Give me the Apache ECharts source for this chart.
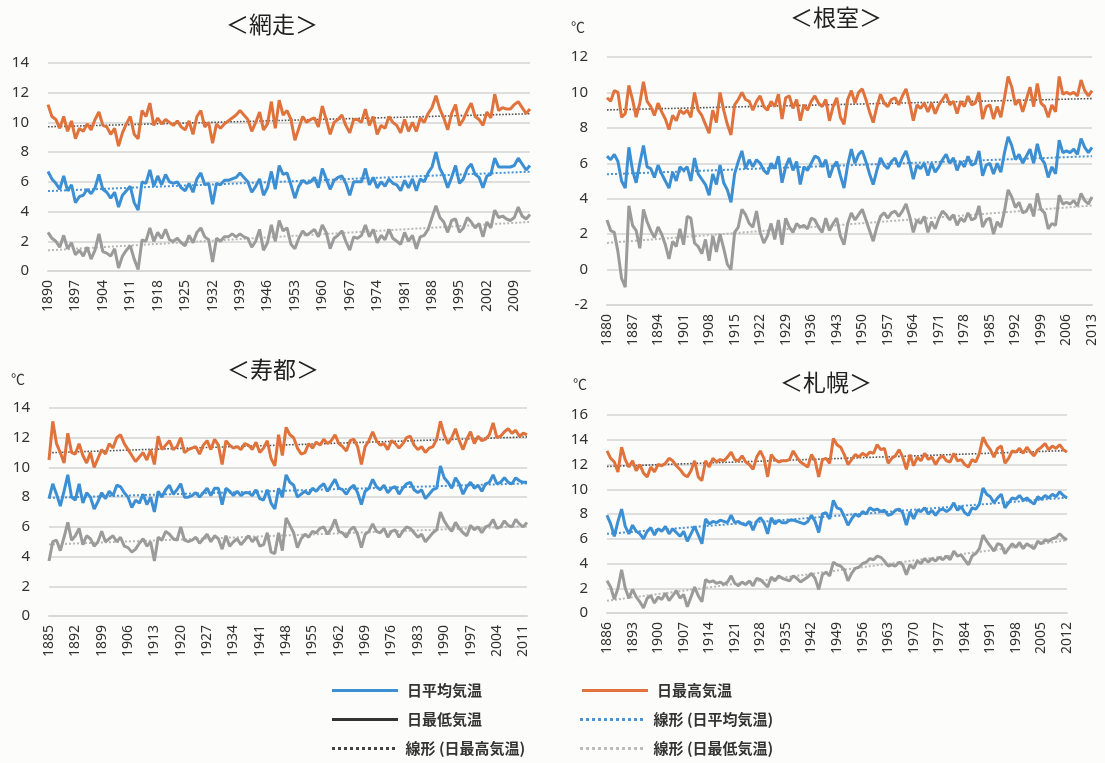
<!DOCTYPE html>
<html>
<head>
<meta charset="utf-8">
<title>北海道 気温の経年変化</title>
<script src="https://cdn.jsdelivr.net/npm/echarts@6/dist/echarts.min.js"></script>
<style>
  html, body { margin: 0; padding: 0; background: #fcfcfa; }
  #main { width: 1105px; height: 763px; }
</style>
</head>
<body>
<div id="main"></div>
<script>
// ---- 網走 1890-2013 ----
var abashiriStart = 1890;
var abashiriHigh = [
  11.2, 10.4, 10.2, 9.6, 10.4, 9.4, 10.1, 8.9, 9.6, 9.4,
  9.9, 9.5, 10.2, 10.7, 9.8, 9.7, 9.2, 9.6, 8.4, 9.3,
  9.9, 10.4, 9.2, 8.9, 10.8, 10.4, 11.3, 9.8, 10.3, 9.9,
  10.2, 10.0, 9.8, 10.1, 9.7, 9.5, 10.1, 9.2, 10.4, 10.8,
  9.7, 10.0, 8.6, 9.9, 9.6, 9.9, 10.1, 10.3, 10.5, 10.8,
  10.5, 10.2, 9.4, 10.0, 10.7, 9.5, 9.9, 11.4, 9.6, 11.5,
  10.5, 10.8, 10.2, 8.8, 9.6, 10.4, 10.0, 10.2, 10.3, 9.7,
  11.1, 10.2, 9.2, 10.0, 10.2, 10.5, 9.8, 9.3, 10.2, 10.2,
  10.0, 10.9, 9.8, 10.4, 9.2, 9.8, 9.6, 10.4, 10.0, 9.8,
  9.3, 10.2, 9.4, 10.0, 9.4, 10.3, 10.0, 10.6, 11.0, 11.8,
  10.9, 10.3, 9.5, 10.6, 11.2, 9.8, 10.2, 10.8, 11.3, 10.4,
  10.2, 9.8, 10.7, 10.3, 11.9, 10.8, 11.0, 10.9, 10.9, 11.2,
  11.4, 11.0, 10.6, 10.9
];
var abashiriMean = [
  6.7, 6.2, 5.9, 5.5, 6.4, 5.4, 5.8, 4.6, 5.0, 5.1,
  5.5, 5.2, 5.6, 6.5, 5.5, 5.3, 4.9, 5.3, 4.3, 5.1,
  5.4, 5.7, 4.6, 4.1, 6.0, 5.9, 6.8, 5.7, 6.4, 5.8,
  6.5, 6.0, 5.9, 6.0, 5.6, 5.4, 5.9, 5.3, 6.2, 6.6,
  5.8, 5.9, 4.5, 5.9, 5.8, 6.1, 6.1, 6.2, 6.3, 6.6,
  6.3, 6.0, 5.3, 5.7, 6.2, 5.1, 5.6, 6.7, 5.5, 7.1,
  6.5, 6.6, 5.8, 4.9, 5.7, 6.1, 5.9, 6.0, 6.3, 5.6,
  6.9, 6.2, 5.5, 6.1, 6.3, 6.4, 5.9, 5.1, 6.0, 6.0,
  6.0, 6.9, 5.8, 6.3, 5.6, 6.0, 5.7, 6.2, 5.9, 5.8,
  5.4, 6.1, 5.6, 6.2, 5.4, 6.2, 6.0, 6.6, 7.0, 8.0,
  6.9, 6.4, 5.6, 6.3, 7.1, 5.9, 6.2, 6.9, 7.2, 6.5,
  6.3, 5.6, 6.4, 6.5, 7.6, 7.0, 7.0, 7.0, 7.0, 7.1,
  7.6, 7.2, 6.8, 7.1
];
var abashiriLow = [
  2.6, 2.2, 2.0, 1.6, 2.4, 1.5, 1.9, 1.1, 1.4, 1.0,
  1.6, 0.8, 1.4, 2.5, 1.3, 1.2, 1.0, 1.5, 0.2, 1.0,
  1.4, 1.7, 0.8, 0.1, 2.1, 2.0, 2.9, 2.0, 2.6, 2.2,
  2.8, 2.1, 2.0, 2.2, 1.9, 1.7, 2.4, 1.9, 2.6, 2.9,
  2.3, 2.1, 0.6, 2.2, 2.0, 2.3, 2.3, 2.5, 2.3, 2.5,
  2.3, 2.2, 1.6, 2.0, 2.8, 1.4, 1.9, 3.1, 2.0, 3.4,
  2.7, 2.9, 1.8, 1.5, 2.2, 2.7, 2.4, 2.6, 2.8, 2.3,
  3.1, 2.6, 1.5, 2.2, 2.4, 2.7, 2.0, 1.4, 2.3, 2.2,
  2.4, 3.1, 2.3, 2.8, 1.9, 2.4, 2.1, 2.8, 2.2, 2.0,
  1.8, 2.6, 2.0, 2.4, 1.5, 2.3, 2.4, 2.8, 3.6, 4.4,
  3.6, 3.3, 2.6, 3.4, 3.5, 2.6, 2.9, 3.6, 3.3, 2.9,
  3.2, 2.3, 3.3, 2.9, 4.1, 3.6, 3.7, 3.5, 3.4, 3.6,
  4.3, 3.7, 3.5, 3.8
];

// ---- 根室 1880-2013 ----
var nemuroStart = 1880;
var nemuroHigh = [
  9.7, 9.5, 10.1, 10.0, 8.6, 8.8, 10.4, 9.6, 8.6, 9.4,
  10.6, 9.5, 9.2, 8.7, 9.4, 8.9, 8.5, 7.9, 8.7, 8.4,
  9.0, 8.8, 9.0, 8.6, 10.0, 9.0, 8.7, 8.2, 7.7, 9.0,
  8.3, 10.0, 9.0, 8.2, 7.6, 9.3, 9.6, 10.0, 9.6, 9.5,
  9.0, 9.5, 9.8, 9.2, 9.0, 9.5, 9.2, 9.9, 8.5, 9.7,
  9.8, 9.1, 9.6, 8.4, 9.3, 9.0, 9.5, 9.8, 9.4, 9.2,
  9.6, 8.4, 9.2, 9.7, 8.6, 8.2, 9.6, 10.1, 9.4, 10.0,
  10.2, 9.6, 8.9, 8.3, 9.2, 9.9, 9.4, 9.2, 9.6, 9.7,
  9.3, 9.8, 10.2, 9.4, 8.4, 9.3, 9.1, 9.4, 8.9, 9.4,
  8.8, 9.3, 9.6, 9.9, 9.3, 9.5, 8.8, 9.5, 9.2, 9.8,
  9.3, 9.4, 10.0, 8.5, 9.2, 9.3, 8.5, 9.2, 8.6, 9.7,
  10.9, 10.3, 9.3, 9.6, 8.9, 9.6, 10.3, 9.2, 10.5, 9.4,
  9.2, 8.6, 9.3, 8.9, 10.9, 9.9, 10.0, 9.9, 10.0, 9.8,
  10.7, 10.1, 9.8, 10.1
];
var nemuroMean = [
  6.4, 6.2, 6.5, 6.1, 5.0, 4.6, 6.9, 5.6, 4.9, 6.0,
  7.0, 5.8, 5.7, 5.2, 5.9, 5.4, 5.0, 4.6, 5.5, 5.0,
  5.8, 5.6, 5.8, 5.0, 6.3, 5.4, 5.1, 4.8, 4.2, 5.4,
  4.8, 5.9, 4.9, 4.5, 3.8, 5.4, 6.1, 6.7, 5.7, 6.2,
  5.8, 6.2, 6.0, 5.6, 5.4, 6.0, 5.7, 6.4, 4.9, 5.8,
  6.3, 5.6, 6.1, 4.8, 5.8, 5.6, 6.0, 6.4, 6.3, 5.8,
  6.2, 5.2, 5.8, 6.1, 5.3, 4.6, 5.9, 6.8, 6.0, 6.5,
  6.7, 6.1, 5.4, 4.8, 5.6, 6.3, 5.9, 5.7, 6.1, 6.3,
  5.8, 6.3, 6.7, 6.0, 5.1, 5.9, 5.7, 6.0, 5.3, 6.0,
  5.5, 5.8, 6.2, 6.5, 6.0, 6.3, 5.6, 6.1, 5.8, 6.4,
  5.9, 6.0, 6.7, 5.3, 5.9, 6.0, 5.4, 6.0, 5.5, 6.6,
  7.5, 7.0, 6.2, 6.5, 6.0, 6.4, 6.8, 6.0, 7.1, 6.3,
  6.0, 5.2, 5.8, 5.4, 7.3, 6.6, 6.7, 6.6, 6.8, 6.5,
  7.4, 6.9, 6.6, 6.9
];
var nemuroLow = [
  2.8, 2.2, 2.1, 1.0, -0.5, -1.0, 3.6, 2.5, 2.2, 1.2,
  3.4, 2.7, 2.2, 1.8, 2.4, 2.0, 1.4, 0.6, 1.6, 1.3,
  2.3, 1.4, 3.0, 2.9, 1.5, 1.3, 0.9, 1.7, 0.5, 1.9,
  1.0, 2.0, 1.2, 0.3, 0.0, 2.1, 2.4, 3.4, 3.1, 2.6,
  2.4, 3.3, 2.1, 1.5, 1.9, 2.6, 1.7, 2.8, 1.4, 2.9,
  2.4, 2.1, 2.6, 2.4, 2.5, 2.3, 2.9, 2.8, 2.4, 2.1,
  2.9, 2.2, 2.6, 2.9, 1.9, 1.4, 2.6, 3.2, 2.8, 3.1,
  3.4, 2.8, 2.2, 1.6, 2.4, 3.0, 3.2, 2.9, 3.2, 3.3,
  3.0, 3.3, 3.7, 3.0, 2.1, 2.8, 2.6, 3.0, 2.1, 2.7,
  2.3, 2.9, 3.3, 3.1, 2.8, 3.1, 2.5, 2.9, 2.7, 3.2,
  2.8, 2.9, 3.6, 2.4, 2.8, 2.9, 2.0, 2.7, 2.4, 3.3,
  4.5, 4.1, 3.5, 3.8, 3.2, 3.3, 3.7, 3.0, 4.3, 3.4,
  3.2, 2.3, 2.6, 2.5, 4.2, 3.7, 3.8, 3.7, 3.9, 3.6,
  4.3, 3.9, 3.7, 4.1
];

// ---- 寿都 1885-2012 ----
var suttsuStart = 1885;
var suttsuHigh = [
  10.5, 13.1, 11.6, 11.0, 10.3, 12.3, 11.0, 10.9, 11.6, 10.8,
  10.3, 11.0, 10.0, 10.6, 11.2, 10.9, 11.6, 11.3, 12.0, 12.2,
  11.6, 11.2, 10.8, 10.4, 10.7, 11.0, 10.5, 11.2, 10.2, 12.1,
  11.2, 11.5, 11.8, 11.2, 11.4, 12.0, 11.0, 11.2, 11.3, 11.4,
  10.9, 11.5, 11.8, 11.2, 11.9, 11.5, 10.2, 11.8, 11.5, 11.3,
  11.4, 11.2, 11.6, 11.5, 11.2, 11.7, 11.0, 11.3, 11.8, 10.6,
  10.1, 12.2, 10.8, 12.7, 12.2, 12.0, 11.3, 10.9, 11.0, 11.6,
  11.3, 11.7, 11.5, 11.9, 11.6, 11.8, 12.2, 11.6, 11.4, 11.1,
  11.8, 11.9, 11.4, 10.2, 11.4, 11.8, 12.4, 11.8, 11.5, 11.6,
  11.2, 11.8, 11.6, 11.3, 11.6, 12.0, 12.1, 11.5, 11.2, 11.4,
  11.0, 11.3, 11.4, 11.9, 13.1, 12.2, 11.6, 12.0, 12.6, 11.8,
  11.2, 11.9, 12.4, 11.6, 12.1, 11.8, 11.9, 12.2, 13.0, 12.0,
  12.1, 12.4, 12.6, 12.3, 12.5, 12.1, 12.3, 12.2
];
var suttsuMean = [
  7.9, 8.9, 8.2, 7.4, 8.4, 9.5, 8.0, 7.8, 8.9, 7.6,
  8.3, 8.0, 7.2, 7.7, 8.3, 7.9, 8.4, 8.1, 8.8, 8.7,
  8.3, 8.0, 7.3, 7.8, 7.6, 8.2, 7.5, 8.0, 7.0, 8.4,
  8.0, 8.5, 8.8, 8.2, 8.5, 8.9, 8.0, 8.0, 8.1, 8.3,
  8.0, 8.3, 8.6, 8.1, 8.6, 8.6, 7.5, 8.6, 8.4, 8.1,
  8.4, 8.1, 8.3, 8.3, 8.1, 8.5, 7.9, 7.8, 8.5, 7.6,
  7.2, 8.6, 8.0, 9.5, 9.0, 8.8, 8.0, 8.2, 8.4, 8.2,
  8.6, 8.4, 8.7, 8.9, 8.4, 8.8, 9.2, 8.6, 8.5, 8.2,
  8.6, 8.8, 8.3, 7.5, 8.4, 8.6, 9.2, 8.7, 8.5, 8.8,
  8.3, 8.6, 8.7, 8.2, 8.6, 8.9, 9.0, 8.5, 8.3, 8.5,
  7.9, 8.2, 8.5, 8.6, 10.1, 9.3, 9.0, 8.6, 9.3, 8.9,
  8.2, 8.7, 9.0, 8.6, 8.8, 8.4, 8.9, 9.0, 9.5, 8.9,
  9.0, 9.3, 9.0, 8.9, 9.3, 9.1, 9.0, 9.0
];
var suttsuLow = [
  3.7, 5.0, 5.1, 4.4, 5.3, 6.3, 5.1, 5.4, 5.9, 4.8,
  5.4, 5.2, 4.7, 5.0, 5.7, 5.0, 5.2, 5.4, 5.0, 5.3,
  4.7, 4.6, 4.3, 4.5, 4.9, 5.2, 4.7, 5.0, 3.7, 5.3,
  5.1, 5.7, 5.5, 5.2, 5.1, 6.0, 5.1, 5.0, 5.1, 5.3,
  4.9, 5.2, 5.5, 5.0, 5.4, 5.2, 4.5, 5.4, 4.7, 5.0,
  5.2, 4.8, 5.1, 5.4, 5.0, 5.3, 4.7, 4.8, 5.6, 4.3,
  4.2, 5.6, 4.4, 6.6, 6.1, 5.6, 4.6, 5.2, 5.5, 5.3,
  5.7, 5.6, 5.9, 6.0, 5.5, 5.9, 6.5, 5.7, 5.6, 5.3,
  5.8, 6.0, 5.5, 4.6, 5.5, 5.7, 6.2, 5.7, 5.6, 5.9,
  5.3, 5.7, 5.8, 5.3, 5.7, 6.0, 5.9, 5.6, 5.3, 5.5,
  5.0, 5.3, 5.6, 5.8, 7.0, 6.4, 6.0, 5.7, 6.3, 5.9,
  5.6, 5.4, 6.1, 5.8, 6.0, 5.6, 6.0, 6.1, 6.5, 5.9,
  6.0, 6.4, 6.1, 6.0, 6.5, 6.2, 6.0, 6.3
];

// ---- 札幌 1886-2012 ----
var sapporoStart = 1886;
var sapporoHigh = [
  13.1, 12.5, 12.2, 11.4, 13.4, 12.4, 11.8, 12.3, 11.5, 12.0,
  11.3, 11.0, 11.8, 11.4, 12.0, 11.9, 12.1, 12.5, 12.3, 11.9,
  11.6, 11.2, 11.0, 11.5, 12.3, 11.0, 10.7, 12.3, 11.8, 12.5,
  12.2, 12.4, 12.3, 12.6, 13.0, 12.4, 12.3, 12.7, 12.2, 12.0,
  11.6, 12.6, 13.1, 12.5, 11.0, 12.8, 12.4, 12.2, 12.3, 12.3,
  12.4, 13.1, 12.6, 12.2, 12.0, 11.8, 12.8, 12.3, 11.0, 12.4,
  12.5, 12.1, 14.1, 13.6, 13.4, 12.8, 12.0, 12.4, 12.8, 12.6,
  12.9, 12.7, 13.0, 12.9, 13.6, 13.2, 13.3, 12.1, 12.5, 12.7,
  13.2, 12.6, 11.6, 12.8, 11.9, 12.6, 12.3, 12.9, 12.4, 12.6,
  12.0, 12.5, 12.7, 12.3, 12.2, 12.9, 12.3, 12.4, 12.0, 11.8,
  12.4, 12.2, 12.9, 14.2, 13.6, 13.2, 12.6, 13.3, 13.5, 12.1,
  12.5, 13.1, 13.0, 13.3, 12.9, 13.4, 13.0, 12.7, 13.2, 13.4,
  13.7, 13.2, 13.5, 13.3, 13.6, 13.2, 13.0
];
var sapporoMean = [
  7.9, 7.2, 6.2, 7.4, 8.4, 7.0, 6.4, 7.1, 6.6, 6.4,
  6.0, 6.6, 6.9, 6.3, 6.8, 6.6, 7.0, 6.4, 6.8, 6.5,
  6.2, 6.6, 5.8, 6.4, 7.0, 6.3, 5.6, 7.6, 7.2, 7.4,
  7.3, 7.5, 7.4, 7.3, 7.9, 7.3, 7.4, 7.2, 7.1, 7.4,
  6.7, 7.4, 7.7, 7.3, 6.4, 7.7, 7.2, 7.5, 7.3, 7.3,
  7.5, 7.5, 7.4, 7.3, 7.2, 7.4, 7.9, 7.4, 6.5, 8.0,
  8.1, 7.6, 9.1, 8.5, 8.4, 7.8, 7.1, 7.6, 8.0, 7.8,
  8.2, 8.0, 8.5, 8.3, 8.4, 8.2, 8.3, 7.9, 8.0, 8.3,
  8.4, 8.1, 7.1, 8.2, 7.6, 8.3, 8.2, 8.5, 8.0, 8.3,
  7.9, 8.3, 8.4, 8.2, 8.4, 8.9, 8.3, 8.6, 8.1, 7.9,
  8.5, 8.4, 8.8, 10.1, 9.6, 9.4, 8.9, 9.3, 9.6, 8.5,
  8.9, 9.3, 9.2, 9.5, 9.1, 9.3, 9.0, 8.8, 9.4, 9.2,
  9.5, 9.3, 9.6, 9.4, 9.8, 9.5, 9.3
];
var sapporoLow = [
  2.6, 2.1, 1.1, 2.0, 3.5, 2.0, 1.2, 1.9, 1.3, 0.9,
  0.4, 1.2, 1.4, 0.8, 1.3, 1.1, 1.6, 1.0, 1.4, 1.8,
  1.2, 1.5, 0.5, 1.3, 2.1, 1.4, 0.9, 2.7, 2.5, 2.6,
  2.4, 2.5, 2.3, 2.5, 3.0, 2.4, 2.2, 2.5, 2.3, 2.6,
  2.2, 2.8, 2.7, 2.4, 2.1, 2.9, 2.6, 3.0, 2.8, 2.7,
  2.6, 3.0, 2.8, 2.5, 2.7, 2.9, 3.2, 2.8, 1.9, 3.1,
  3.3, 3.0, 4.1, 3.9, 3.8, 3.5, 2.6, 3.2, 3.6, 3.7,
  4.0, 4.1, 4.4, 4.3, 4.6, 4.5, 4.2, 3.8, 3.9, 3.8,
  4.1, 3.9, 3.1, 3.9, 3.6, 4.2, 4.0, 4.4, 4.1, 4.4,
  4.2, 4.5, 4.3, 4.6, 4.3, 5.0, 4.6, 4.7, 4.3, 3.9,
  4.6, 4.8, 5.2, 6.3, 5.8, 5.4, 5.0, 5.6, 5.5, 4.8,
  5.2, 5.6, 5.3, 5.7, 5.2, 5.6, 5.4, 5.2, 5.8, 5.6,
  5.9, 5.8, 6.0, 6.1, 6.4, 6.1, 5.9
];

var seriesNames = ['日平均気温', '日最高気温', '日最低気温', '線形 (日平均気温)', '線形 (日最高気温)', '線形 (日最低気温)'];

var BLUE = '#3b8fd2', ORANGE = '#e0723c', GRAY = '#9b9b9b';
var FONT = '"Noto Sans", "Noto Sans CJK JP", sans-serif';
var JP = '"Noto Sans CJK JP", sans-serif';

// 凡例アイコン（実線 / 点線）
var SOLID_ICON = 'path://M0,0H66V3H0Z';
var DOT_ICON = 'path://' + (function () {
  var d = '';
  for (var i = 0; i < 11; i++) d += 'M' + (i * 6) + ',0h3v3h-3z';
  return d;
})();

// 年のカテゴリ
function makeYears(start, n) {
  var arr = [];
  for (var i = 0; i < n; i++) arr.push(String(start + i));
  return arr;
}

// 線形近似（最小二乗）
function linearTrend(values) {
  var n = values.length, sx = 0, sy = 0, sxy = 0, sxx = 0;
  for (var i = 0; i < n; i++) {
    sx += i; sy += values[i]; sxy += i * values[i]; sxx += i * i;
  }
  var b = (n * sxy - sx * sy) / (n * sxx - sx * sx);
  var a = (sy - b * sx) / n;
  return values.map(function (v, i) { return +(a + b * i).toFixed(3); });
}

var panels = [
  { name: '＜網走＞', start: abashiriStart, mean: abashiriMean, high: abashiriHigh, low: abashiriLow,
    min: 0, max: 14, grid: { left: 48, top: 63, width: 482, height: 208 }, titleX: 272, titleY: 13 },
  { name: '＜根室＞', start: nemuroStart, mean: nemuroMean, high: nemuroHigh, low: nemuroLow,
    min: -2, max: 12, grid: { left: 607, top: 57, width: 485, height: 248 }, titleX: 836, titleY: 6,
    unit: [578, 20] },
  { name: '＜寿都＞', start: suttsuStart, mean: suttsuMean, high: suttsuHigh, low: suttsuLow,
    min: 0, max: 14, grid: { left: 49, top: 408, width: 478, height: 208 }, titleX: 273, titleY: 358,
    unit: [18, 372] },
  { name: '＜札幌＞', start: sapporoStart, mean: sapporoMean, high: sapporoHigh, low: sapporoLow,
    min: 0, max: 16, grid: { left: 607, top: 415, width: 460, height: 198 }, titleX: 826, titleY: 371,
    unit: [580, 377] }
];

var grids = [], xAxes = [], yAxes = [], series = [], titles = [];

panels.forEach(function (p, idx) {
  grids.push(p.grid);
  xAxes.push({
    type: 'category',
    gridIndex: idx,
    data: makeYears(p.start, p.mean.length),
    boundaryGap: false,
    axisTick: { show: false },
    axisLine: { onZero: false, lineStyle: { color: '#d8d8d8', width: 2 } },
    axisLabel: { interval: 6, rotate: 90, margin: 9, fontSize: 14, color: '#333', fontFamily: FONT }
  });
  yAxes.push({
    type: 'value',
    gridIndex: idx,
    min: p.min,
    max: p.max,
    interval: 2,
    axisLine: { show: false },
    axisTick: { show: false },
    splitLine: { lineStyle: { color: '#dedede', width: 2 } },
    axisLabel: { margin: 19, fontSize: 15, color: '#333', fontFamily: FONT }
  });

  var lines = [
    [seriesNames[0], p.mean, BLUE],
    [seriesNames[1], p.high, ORANGE],
    [seriesNames[2], p.low, GRAY]
  ];
  lines.forEach(function (l) {
    series.push({
      name: l[0], type: 'line', xAxisIndex: idx, yAxisIndex: idx,
      data: l[1], symbol: 'none', z: 3,
      lineStyle: { color: l[2], width: 3 }, itemStyle: { color: l[2] }
    });
  });
  var trends = [
    [seriesNames[3], p.mean, '#4a94d4', 2],
    [seriesNames[4], p.high, '#555555', 1.6],
    [seriesNames[5], p.low, '#b8b8b8', 2]
  ];
  trends.forEach(function (t) {
    series.push({
      name: t[0], type: 'line', xAxisIndex: idx, yAxisIndex: idx,
      data: linearTrend(t[1]), symbol: 'none', z: 2,
      lineStyle: { color: t[2], width: t[3], type: 'dotted' }, itemStyle: { color: t[2] }
    });
  });

  titles.push({
    text: p.name, left: p.titleX, top: p.titleY, textAlign: 'center', padding: 0,
    textStyle: { fontSize: 23, fontWeight: 'normal', color: '#222', fontFamily: JP }
  });
  if (p.unit) {
    titles.push({
      text: '℃', left: p.unit[0], top: p.unit[1], textAlign: 'center', padding: 0,
      textStyle: { fontSize: 14, fontWeight: 'normal', color: '#333', fontFamily: JP }
    });
  }
});

// 凡例（2列×3行）
var legendSpots = [
  [seriesNames[0], 332, 683, SOLID_ICON, BLUE],
  [seriesNames[1], 582, 683, SOLID_ICON, ORANGE],
  [seriesNames[2], 332, 712, SOLID_ICON, '#333333'],
  [seriesNames[3], 580, 712, DOT_ICON, '#4a94d4'],
  [seriesNames[4], 332, 741, DOT_ICON, '#444444'],
  [seriesNames[5], 580, 741, DOT_ICON, '#bdbdbd']
];
var legends = legendSpots.map(function (s) {
  return {
    data: [{ name: s[0], icon: s[3], itemStyle: { color: s[4] } }],
    left: s[1], top: s[2], padding: 0,
    itemWidth: 66, itemHeight: 3,
    textStyle: { fontSize: 15, fontWeight: 'bold', color: '#333', fontFamily: JP, padding: [0, 0, 0, 4] }
  };
});

var chart = echarts.init(document.getElementById('main'));
chart.setOption({
  backgroundColor: '#fcfcfa',
  animation: false,
  title: titles,
  legend: legends,
  grid: grids,
  xAxis: xAxes,
  yAxis: yAxes,
  series: series
});
</script>
</body>
</html>
